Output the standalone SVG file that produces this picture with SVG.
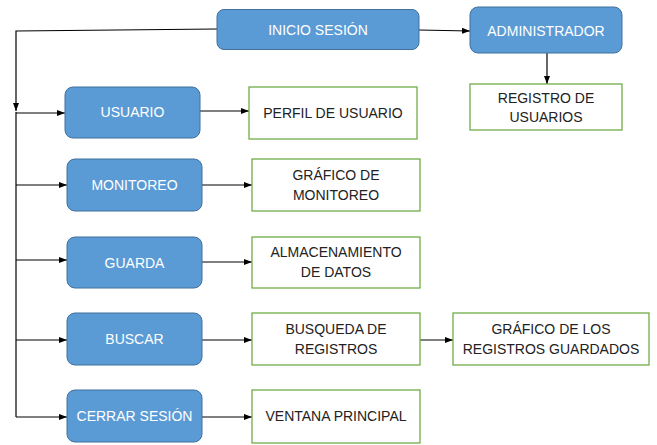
<svg xmlns="http://www.w3.org/2000/svg" width="657" height="445" viewBox="0 0 657 445">
<style>
.b rect{fill:#5B9BD5;stroke:#41719C;stroke-width:1}
.b text{fill:#fff}
.g rect{fill:#fff;stroke:#70AD47;stroke-width:1.3}
.g text{fill:#222}
text{font-family:"Liberation Sans",Arial,sans-serif;font-size:14px;text-anchor:middle}
.c line,.c polyline{stroke:#000;stroke-width:1.2;fill:none}
</style>
<defs>
<marker id="a" viewBox="0 0 8 8" refX="8" refY="4" markerWidth="8" markerHeight="8" markerUnits="userSpaceOnUse" orient="auto">
<path d="M0,1 L8,4 L0,7 Z" fill="#000"/>
</marker>
</defs>
<g class="c">
<polyline points="217,29 16,31 16,111" marker-end="url(#a)"/>
<line x1="16" y1="112" x2="16" y2="417"/>
<line x1="419" y1="30" x2="470" y2="31" marker-end="url(#a)"/>
<line x1="547" y1="53" x2="547" y2="84" marker-end="url(#a)"/>
<line x1="16" y1="113" x2="65" y2="113" marker-end="url(#a)"/>
<line x1="200" y1="111" x2="249" y2="111" marker-end="url(#a)"/>
<line x1="16" y1="185" x2="67" y2="185" marker-end="url(#a)"/>
<line x1="202" y1="185" x2="252" y2="185" marker-end="url(#a)"/>
<line x1="16" y1="260" x2="67" y2="260" marker-end="url(#a)"/>
<line x1="202" y1="262" x2="252" y2="262" marker-end="url(#a)"/>
<line x1="16" y1="340" x2="67" y2="340" marker-end="url(#a)"/>
<line x1="202" y1="340" x2="252" y2="340" marker-end="url(#a)"/>
<line x1="420" y1="340" x2="453" y2="340" marker-end="url(#a)"/>
<line x1="16" y1="417" x2="67" y2="417" marker-end="url(#a)"/>
<line x1="202" y1="417" x2="252" y2="417" marker-end="url(#a)"/>
</g>
<g id="inicio" class="b"><rect x="217" y="9.5" width="202" height="40" rx="7"/><text x="318" y="35">INICIO SESIÓN</text></g>
<g id="admin" class="b"><rect x="470" y="7" width="152" height="46" rx="8"/><text x="546" y="36">ADMINISTRADOR</text></g>
<g id="registro" class="g"><rect x="470" y="84" width="152" height="46"/><text x="546" y="103">REGISTRO DE</text><text x="546" y="122">USUARIOS</text></g>
<g id="usuario" class="b"><rect x="65" y="87" width="135" height="51" rx="8"/><text x="132.5" y="117">USUARIO</text></g>
<g id="perfil" class="g"><rect x="249" y="87" width="168" height="52"/><text x="333" y="118">PERFIL DE USUARIO</text></g>
<g id="monitoreo" class="b"><rect x="67" y="159" width="135" height="52" rx="8"/><text x="134.5" y="190">MONITOREO</text></g>
<g id="grafmon" class="g"><rect x="252" y="159" width="168" height="52"/><text x="336" y="180">GRÁFICO DE</text><text x="336" y="200">MONITOREO</text></g>
<g id="guarda" class="b"><rect x="67" y="237" width="135" height="51" rx="8"/><text x="134.5" y="268">GUARDA</text></g>
<g id="almac" class="g"><rect x="252" y="237" width="168" height="51"/><text x="336" y="257">ALMACENAMIENTO</text><text x="336" y="277">DE DATOS</text></g>
<g id="buscar" class="b"><rect x="67" y="313" width="135" height="52" rx="8"/><text x="134.5" y="344">BUSCAR</text></g>
<g id="busqueda" class="g"><rect x="252" y="313" width="168" height="52"/><text x="336" y="334">BUSQUEDA DE</text><text x="336" y="354">REGISTROS</text></g>
<g id="grafreg" class="g"><rect x="453" y="313" width="196" height="52"/><text x="551" y="334">GRÁFICO DE LOS</text><text x="551" y="354">REGISTROS GUARDADOS</text></g>
<g id="cerrar" class="b"><rect x="67" y="390" width="135" height="52" rx="8"/><text x="134.5" y="421">CERRAR SESIÓN</text></g>
<g id="ventana" class="g"><rect x="252" y="390" width="168" height="53"/><text x="336" y="421">VENTANA PRINCIPAL</text></g>
</svg>
